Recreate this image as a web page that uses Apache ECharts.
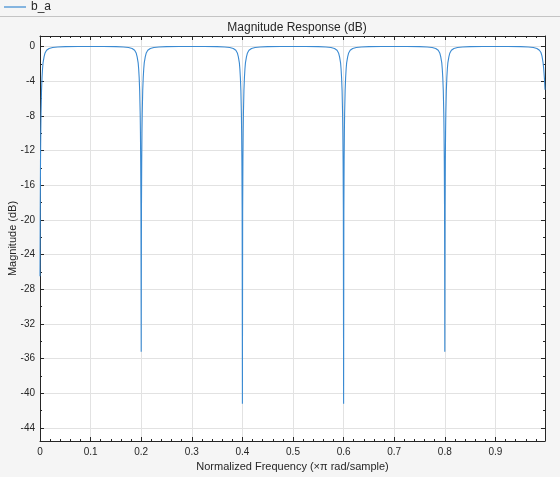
<!DOCTYPE html>
<html>
<head>
<meta charset="utf-8">
<script src="https://cdn.jsdelivr.net/npm/echarts@6/dist/echarts.min.js"></script>
<style>
html,body{margin:0;padding:0;background:#f5f5f5;}
#chart{width:560px;height:477px;}
</style>
</head>
<body>
<div id="chart"></div>
<script>
// Normalized frequency (x pi rad/sample)
const freq = [
  0, 0.0005, 0.001, 0.0015, 0.002, 0.003, 0.004, 0.005, 0.006, 0.008, 0.010, 0.013, 0.018, 0.025, 0.035, 0.05, 0.075,
  0.1, 0.125, 0.15, 0.165, 0.175, 0.182, 0.187, 0.19, 0.192, 0.194, 0.195, 0.196, 0.197, 0.198, 0.1985, 0.199, 0.1995,
  0.2, 0.2005, 0.201, 0.2015, 0.202, 0.203, 0.204, 0.205, 0.206, 0.208, 0.21, 0.213, 0.218, 0.225, 0.235, 0.25, 0.275,
  0.3, 0.325, 0.35, 0.365, 0.375, 0.382, 0.387, 0.39, 0.392, 0.394, 0.395, 0.396, 0.397, 0.398, 0.3985, 0.399, 0.3995,
  0.4, 0.4005, 0.401, 0.4015, 0.402, 0.403, 0.404, 0.405, 0.406, 0.408, 0.41, 0.413, 0.418, 0.425, 0.435, 0.45, 0.475,
  0.5, 0.525, 0.55, 0.565, 0.575, 0.582, 0.587, 0.59, 0.592, 0.594, 0.595, 0.596, 0.597, 0.598, 0.5985, 0.599, 0.5995,
  0.6, 0.6005, 0.601, 0.6015, 0.602, 0.603, 0.604, 0.605, 0.606, 0.608, 0.61, 0.613, 0.618, 0.625, 0.635, 0.65, 0.675,
  0.7, 0.725, 0.75, 0.765, 0.775, 0.782, 0.787, 0.79, 0.792, 0.794, 0.795, 0.796, 0.797, 0.798, 0.7985, 0.799, 0.7995,
  0.8, 0.8005, 0.801, 0.8015, 0.802, 0.803, 0.804, 0.805, 0.806, 0.808, 0.81, 0.813, 0.818, 0.825, 0.835, 0.85, 0.875,
  0.9, 0.925, 0.95, 0.965, 0.975, 0.982, 0.987, 0.99, 0.992, 0.994, 0.995, 0.996, 0.997, 0.998
];
// Magnitude (dB)
const magDb = [
  -26.5, -19, -13.3, -10, -7.8, -5.1, -3.6, -2.6, -1.9, -1.2, -0.75, -0.45, -0.24, -0.12, -0.06, -0.03, -0.015,
  -0.01, -0.015, -0.03, -0.06, -0.12, -0.24, -0.45, -0.75, -1.2, -1.9, -2.6, -3.6, -5.1, -7.8, -10, -13.3, -19,
  -35.2, -19, -13.3, -10, -7.8, -5.1, -3.6, -2.6, -1.9, -1.2, -0.75, -0.45, -0.24, -0.12, -0.06, -0.03, -0.015,
  -0.01, -0.015, -0.03, -0.06, -0.12, -0.24, -0.45, -0.75, -1.2, -1.9, -2.6, -3.6, -5.1, -7.8, -10, -13.3, -19,
  -41.2, -19, -13.3, -10, -7.8, -5.1, -3.6, -2.6, -1.9, -1.2, -0.75, -0.45, -0.24, -0.12, -0.06, -0.03, -0.015,
  -0.01, -0.015, -0.03, -0.06, -0.12, -0.24, -0.45, -0.75, -1.2, -1.9, -2.6, -3.6, -5.1, -7.8, -10, -13.3, -19,
  -41.2, -19, -13.3, -10, -7.8, -5.1, -3.6, -2.6, -1.9, -1.2, -0.75, -0.45, -0.24, -0.12, -0.06, -0.03, -0.015,
  -0.01, -0.015, -0.03, -0.06, -0.12, -0.24, -0.45, -0.75, -1.2, -1.9, -2.6, -3.6, -5.1, -7.8, -10, -13.3, -19,
  -35.2, -19, -13.3, -10, -7.8, -5.1, -3.6, -2.6, -1.9, -1.2, -0.75, -0.45, -0.24, -0.12, -0.06, -0.03, -0.015,
  -0.01, -0.015, -0.03, -0.06, -0.12, -0.24, -0.45, -0.7, -1.1, -1.8, -2.3, -3.0, -3.8, -5.0
];
const seriesName = 'b_a';
const yMajorTicks = [0, -4, -8, -12, -16, -20, -24, -28, -32, -36, -40, -44];
const yMinorTicks = [-2, -6, -10, -14, -18, -22, -26, -30, -34, -38, -42];
const xRange = [0, 0.998];
const yRange = [-45.5, 1.2];

const FONT = '"Liberation Sans", Arial, Helvetica, sans-serif';
const AX = '#262626';
const GRID = '#e2e2e2';
const LINE = '#3a8ad2';

const data = freq.map((f, i) => [f, magDb[i]]);

const chart = echarts.init(document.getElementById('chart'), null, {renderer: 'canvas'});

function xAx(pos, labels) {
  return {
    type: 'value', position: pos, min: xRange[0], max: xRange[1], interval: 0.1,
    axisLine: {show: true, onZero: false, lineStyle: {color: AX, width: 1}},
    axisTick: {show: true, inside: true, length: 4, lineStyle: {color: AX}},
    minorTick: {show: true, splitNumber: 5, length: 2, lineStyle: {color: AX}},
    axisLabel: {show: labels, margin: 6, fontSize: 10, color: AX, fontFamily: FONT,
      showMaxLabel: false,
      formatter: v => (v === 0 ? '0' : v.toFixed(1))},
    splitLine: {show: labels, lineStyle: {color: GRID, width: 1}},
    minorSplitLine: {show: false},
    name: labels ? 'Normalized Frequency (\u00d7\u03c0 rad/sample)' : '',
    nameLocation: 'middle', nameGap: 18,
    nameTextStyle: {fontSize: 11, color: AX, fontFamily: FONT}
  };
}
function yAx(pos, ticks, len, line, labels, split) {
  return {
    type: 'value', position: pos, min: yRange[0], max: yRange[1],
    axisLine: {show: line, onZero: false, lineStyle: {color: AX, width: 1}},
    axisTick: {show: true, inside: true, length: len, customValues: ticks, lineStyle: {color: AX}},
    axisLabel: {show: labels, customValues: ticks, margin: 5, fontSize: 10, color: AX, fontFamily: FONT},
    splitLine: {show: split, lineStyle: {color: GRID, width: 1}},
    name: labels ? 'Magnitude (dB)' : '',
    nameLocation: 'middle', nameGap: 22, nameRotate: 90, nameMoveOverlap: false,
    nameTextStyle: {fontSize: 11, color: AX, fontFamily: FONT}
  };
}

chart.setOption({
  backgroundColor: '#f5f5f5',
  animation: false,
  textStyle: {fontFamily: FONT},
  title: {
    text: 'Magnitude Response (dB)', left: 292, top: 17, textAlign: 'center',
    textStyle: {fontSize: 12, fontWeight: 'normal', color: AX, fontFamily: FONT}
  },
  legend: {
    data: [seriesName], left: 4, top: 1, padding: 0, icon: 'rect', itemWidth: 22, itemHeight: 1.2, itemGap: 4,
    textStyle: {fontSize: 12, color: AX, fontFamily: FONT}
  },
  graphic: [{
    type: 'line', shape: {x1: 0, y1: 16.5, x2: 560, y2: 16.5},
    style: {stroke: '#c4c4c4', lineWidth: 1}, silent: true
  }],
  grid: {left: 40, right: 15, top: 36, bottom: 36, show: true, backgroundColor: '#ffffff',
    borderWidth: 0, containLabel: false, outerBoundsMode: 'none'},
  xAxis: [xAx('bottom', true), xAx('top', false)],
  yAxis: [
    yAx('left', yMajorTicks, 4, true, true, true),
    yAx('left', yMinorTicks, 2, false, false, false),
    yAx('right', yMajorTicks, 4, true, false, false),
    yAx('right', yMinorTicks, 2, false, false, false)
  ],
  series: [{
    name: seriesName, type: 'line', data: data, xAxisIndex: 0, yAxisIndex: 0,
    showSymbol: false, symbol: 'none', clip: true,
    lineStyle: {color: LINE, width: 1.1},
    itemStyle: {color: LINE}
  }]
});
</script>
</body>
</html>
